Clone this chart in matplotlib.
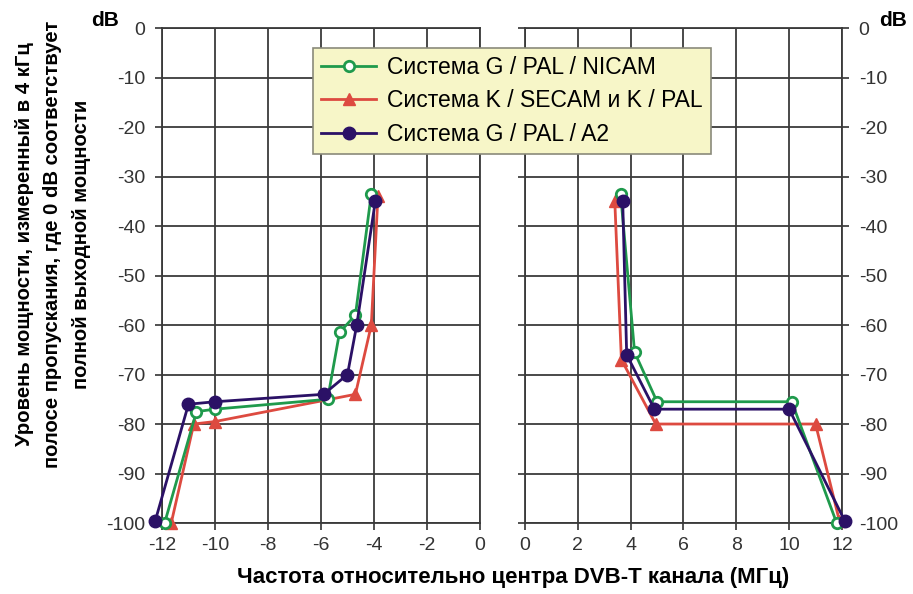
import matplotlib
matplotlib.use("Agg")
import matplotlib.pyplot as plt

plt.rcParams['font.family'] = ['Liberation Sans', 'DejaVu Sans']

# Данные, левая половина (частота ниже центра)
nicam_l_x = [-11.9, -10.7, -10.0, -5.75, -5.3, -4.7, -4.1]
nicam_l_y = [-100, -77.5, -77, -75, -61.5, -58, -33.5]
secam_l_x = [-11.65, -10.8, -10.0, -4.7, -4.1, -3.85]
secam_l_y = [-100, -80, -79.5, -74, -60, -34]
a2_l_x = [-12.25, -11.0, -10.0, -5.9, -5.0, -4.65, -3.95]
a2_l_y = [-99.5, -76, -75.5, -74, -70, -60, -35]

# правая половина (частота выше центра)
nicam_r_x = [3.62, 4.15, 5.0, 10.1, 11.8]
nicam_r_y = [-33.5, -65.5, -75.5, -75.5, -100]
secam_r_x = [3.4, 3.65, 4.95, 11.0, 11.9]
secam_r_y = [-35, -67, -80, -80, -99.5]
a2_r_x = [3.7, 3.85, 4.9, 10.0, 12.1]
a2_r_y = [-35, -66, -77, -77, -99.5]

labels = ["Система G / PAL / NICAM",
          "Система K / SECAM и K / PAL",
          "Система G / PAL / A2"]

green = '#1f9a4c'
red = '#dd4a40'
navy = '#2b1166'
grid_col = '#3a3a3a'

fig = plt.figure(figsize=(9.13, 5.94), dpi=100)
ax1 = fig.add_axes([0.1774, 0.1195, 0.3483, 0.8333])
ax2 = fig.add_axes([0.575, 0.1195, 0.3472, 0.8333])

def series(ax, gx, gy, rx, ry, bx, by):
    h1, = ax.plot(gx, gy, '-o', color=green, lw=2, ms=7.5, mfc='white',
                  mew=2, clip_on=False, zorder=4)
    h2, = ax.plot(rx, ry, '-^', color=red, lw=2, ms=8.5, clip_on=False, zorder=3)
    h3, = ax.plot(bx, by, '-o', color=navy, lw=2, ms=9, clip_on=False, zorder=5)
    return h1, h2, h3

handles = series(ax1, nicam_l_x, nicam_l_y, secam_l_x, secam_l_y, a2_l_x, a2_l_y)
series(ax2, nicam_r_x, nicam_r_y, secam_r_x, secam_r_y, a2_r_x, a2_r_y)

for ax in (ax1, ax2):
    ax.set_ylim(-100, 0)
    ax.set_yticks(range(-100, 1, 10))
    ax.grid(True, color=grid_col, lw=1.3)
    ax.set_axisbelow(True)
    for s in ax.spines.values():
        s.set_color(grid_col)
        s.set_linewidth(1.3)
    ax.tick_params(colors='#333333', labelsize=14, length=5, width=1.2)
    ax.tick_params(axis='y', pad=7)
    ax.tick_params(axis='x', pad=5)

ax1.set_xlim(-12, 0)
ax1.set_xticks(range(-12, 1, 2))
ax1.set_xticklabels([str(v) for v in range(-12, 1, 2)])
ax1.set_yticklabels([str(v) for v in range(-100, 1, 10)])
ax2.set_xlim(0, 12)
ax2.set_xticks(range(0, 13, 2))
ax2.yaxis.tick_right()
ax2.tick_params(left=True, right=True, labelleft=False, labelright=True)
ax2.set_yticklabels([str(v) for v in range(-100, 1, 10)])

fig.text(105 / 913, 1 - 20 / 594, "dB", fontsize=15, fontweight='bold',
         ha='center', va='center')
fig.text(893 / 913, 1 - 20 / 594, "dB", fontsize=15, fontweight='bold',
         ha='center', va='center')

fig.text(513 / 913, 1 - 578 / 594,
         "Частота относительно центра DVB-T канала (МГц)",
         fontsize=16, fontweight='bold', ha='center', va='center')
fig.text(53 / 913, 1 - 244 / 594,
         "Уровень мощности, измеренный в 4 кГц\n"
         "полосе пропускания, где 0 dB соответствует\n"
         "полной выходной мощности",
         fontsize=14.6, fontweight='bold', ha='center', va='center',
         rotation=90, multialignment='center', linespacing=1.65)

leg = fig.legend(handles, labels, loc='upper left',
                 bbox_to_anchor=(313 / 913, 1 - 48 / 594),
                 fontsize=16.5, handlelength=2.4, handletextpad=0.5,
                 labelspacing=0.45, borderpad=0.35, borderaxespad=0,
                 fancybox=False, framealpha=1)
leg.get_frame().set_facecolor('#f7f6c8')
leg.get_frame().set_edgecolor('#8a8a7a')
leg.get_frame().set_linewidth(1.2)

fig.savefig("out.png", dpi=100)
